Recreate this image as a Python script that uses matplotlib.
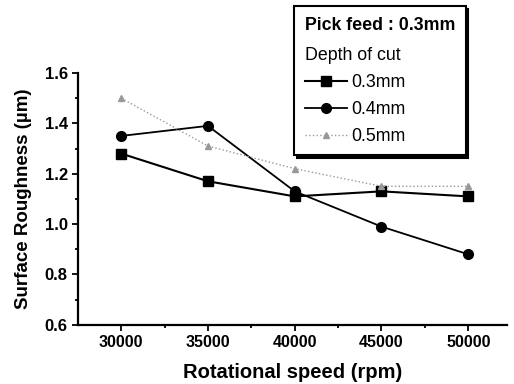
import matplotlib
matplotlib.use('Agg')
import matplotlib.pyplot as plt
from matplotlib.patches import Rectangle
from matplotlib.ticker import MultipleLocator

plt.rcParams['font.family'] = ['Liberation Sans', 'DejaVu Sans']

speed = [30000, 35000, 40000, 45000, 50000]
depth_03 = [1.28, 1.17, 1.11, 1.13, 1.11]
depth_04 = [1.35, 1.39, 1.13, 0.99, 0.88]
depth_05 = [1.50, 1.31, 1.22, 1.15, 1.15]
labels = ['0.3mm', '0.4mm', '0.5mm']

fig = plt.figure(figsize=(5.14, 3.84), dpi=100)
ax = fig.add_axes([0.152, 0.154, 0.835, 0.656])

h1, = ax.plot(speed, depth_03, '-s', color='black', lw=1.5, ms=6.5)
h2, = ax.plot(speed, depth_04, '-o', color='black', lw=1.3, ms=7)
h3, = ax.plot(speed, depth_05, ':^', color='#999999', lw=1.0, ms=5)

ax.set_xlim(27520, 52250)
ax.set_ylim(0.6, 1.6)
ax.set_xticks(speed)
ax.xaxis.set_minor_locator(MultipleLocator(2500))
ax.yaxis.set_major_locator(MultipleLocator(0.2))
ax.yaxis.set_minor_locator(MultipleLocator(0.1))
ax.tick_params(which='both', direction='out', width=1.3)
ax.tick_params(which='major', length=4)
ax.tick_params(which='minor', length=2.5)
ax.tick_params(axis='x', labelsize=11.5)
ax.tick_params(axis='y', labelsize=12)
for lbl in ax.get_xticklabels() + ax.get_yticklabels():
    lbl.set_fontweight('bold')
ax.spines['top'].set_visible(False)
ax.spines['right'].set_visible(False)
ax.spines['left'].set_linewidth(1.6)
ax.spines['bottom'].set_linewidth(1.6)

ax.set_xlabel('Rotational speed (rpm)', fontsize=14.5, fontweight='bold', labelpad=9)
ax.set_ylabel('Surface Roughness (\u00b5m)', fontsize=13.5, fontweight='bold', labelpad=9)

# "Depth of cut" is a legend row with no handle
fs = 12.8
blank = Rectangle((0, 0), 1, 1, visible=False)
leg = ax.legend([blank, h1, h2, h3], ['Depth of cut'] + labels,
                title='Pick feed : 0.3mm',
                title_fontproperties={'weight': 'bold', 'size': fs},
                loc='upper left', bbox_to_anchor=(0.572, 0.984),
                bbox_transform=fig.transFigure, borderaxespad=0,
                fontsize=fs, handlelength=2.4,
                handletextpad=0.2, borderpad=0.6, labelspacing=0.55,
                fancybox=False, shadow={'color': 'black', 'alpha': 1},
                edgecolor='black', framealpha=1)
leg._legend_box.align = 'left'
leg._legend_box.sep = 0.55 * fs * fig.dpi / 72
first_row = leg._legend_handle_box.get_children()[0].get_children()[0]
first_row.get_children()[0].width = 0
first_row.sep = 0
leg.get_frame().set_linewidth(1.5)
leg.set_zorder(5)

fig.savefig('out.png', dpi=100)
